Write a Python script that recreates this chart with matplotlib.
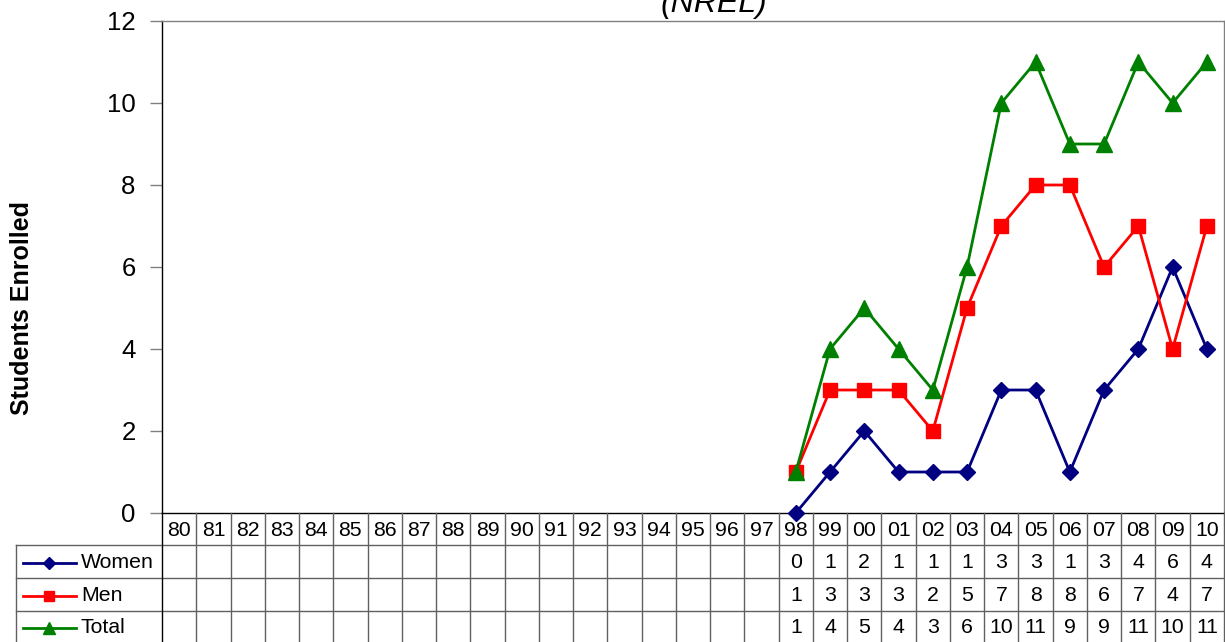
import numpy as np
import matplotlib
matplotlib.use("Agg")
import matplotlib.pyplot as plt

plt.rcParams['font.family'] = ['Liberation Sans', 'DejaVu Sans']

categories = ['80', '81', '82', '83', '84', '85', '86', '87', '88', '89', '90',
              '91', '92', '93', '94', '95', '96', '97', '98', '99', '00', '01',
              '02', '03', '04', '05', '06', '07', '08', '09', '10']
nan = np.nan
women = [nan] * 18 + [0, 1, 2, 1, 1, 1, 3, 3, 1, 3, 4, 6, 4]
men = [nan] * 18 + [1, 3, 3, 3, 2, 5, 7, 8, 8, 6, 7, 4, 7]
total = [nan] * 18 + [1, 4, 5, 4, 3, 6, 10, 11, 9, 9, 11, 10, 11]
series_names = ['Women', 'Men', 'Total']
series_vals = [women, men, total]
colors = ['#000080', '#FF0000', '#008000']
markers = ['D', 's', '^']
msizes = [8, 9.5, 11]
yticks = [0, 2, 4, 6, 8, 10, 12]

W, H = 1225, 642
fig = plt.figure(figsize=(W / 100, H / 100), dpi=100)

left, right, top, bottom = 162, 1224, 21, 513
ax = fig.add_axes([left / W, 1 - bottom / H, (right - left) / W, (bottom - top) / H])
n = len(categories)
x = np.arange(n)
for vals, c, m, ms in zip(series_vals, colors, markers, msizes):
    ax.plot(x, vals, color=c, lw=2, marker=m, ms=ms, mfc=c, mec=c, clip_on=False, zorder=3)
ax.set_xlim(-0.5, n - 0.5)
ax.set_ylim(0, 12)
ax.set_yticks(yticks)
ax.set_xticks([])
ax.tick_params(axis='y', direction='out', length=9, width=1, color='#808080',
               labelsize=18.5, pad=10)
ax.spines['left'].set_color('black')
ax.spines['bottom'].set_color('black')
ax.spines['top'].set_color('#808080')
ax.spines['right'].set_color('#808080')
for s in ax.spines.values():
    s.set_linewidth(1)
ax.set_ylabel('Students Enrolled', fontsize=18, fontweight='bold')
ax.yaxis.set_label_coords(-128 / (right - left), (513 - 308) / 492)

# title (cut off at top, as in the reference)
fig.text(714 / W, 1 - 12 / H, '(NREL)', fontsize=23, style='italic',
         ha='center', va='baseline')

# data table
colw = (right - left) / n
tab_left = 16
ext = (left - tab_left) / colw
tax = fig.add_axes([tab_left / W, 0, (right - tab_left) / W, (H - bottom) / H])
tax.set_xlim(-0.5 - ext, n - 0.5)
tax.set_ylim(H, bottom)
tax.axis('off')
rows_y = [bottom, 545, 578, 611, H]
gc = '#606060'
fs = 15.3
for yy in rows_y[1:4]:
    tax.plot([-0.5 - ext, n - 0.5], [yy, yy], color=gc, lw=1, clip_on=False)
for i in range(n + 1):
    tax.plot([i - 0.5, i - 0.5], [bottom, H], color=gc if i > 0 else 'black', lw=1, clip_on=False)
tax.plot([-0.5 - ext, -0.5 - ext], [rows_y[1], H], color=gc, lw=1, clip_on=False)
for i, cat in enumerate(categories):
    tax.text(i, (rows_y[0] + rows_y[1]) / 2 + 1, cat, ha='center', va='center', fontsize=fs)
for r, (name, vals, c, m, ms) in enumerate(zip(series_names, series_vals, colors, markers, msizes)):
    yc = (rows_y[r + 1] + rows_y[r + 2]) / 2 + 1
    x0 = -0.5 - ext + 7 / colw
    x1 = -0.5 - ext + 60 / colw
    xm = (x0 + x1) / 2
    tax.plot([x0, x1], [yc, yc], color=c, lw=2)
    tax.plot([xm], [yc], marker=m, color=c, ms=ms * 0.8, mec=c)
    tax.text(-0.5 - ext + 65 / colw, yc, name, ha='left', va='center', fontsize=fs)
    for i, v in enumerate(vals):
        if not np.isnan(v):
            tax.text(i, yc, f'{int(v)}', ha='center', va='center', fontsize=fs)

fig.savefig('out.png', dpi=100)
